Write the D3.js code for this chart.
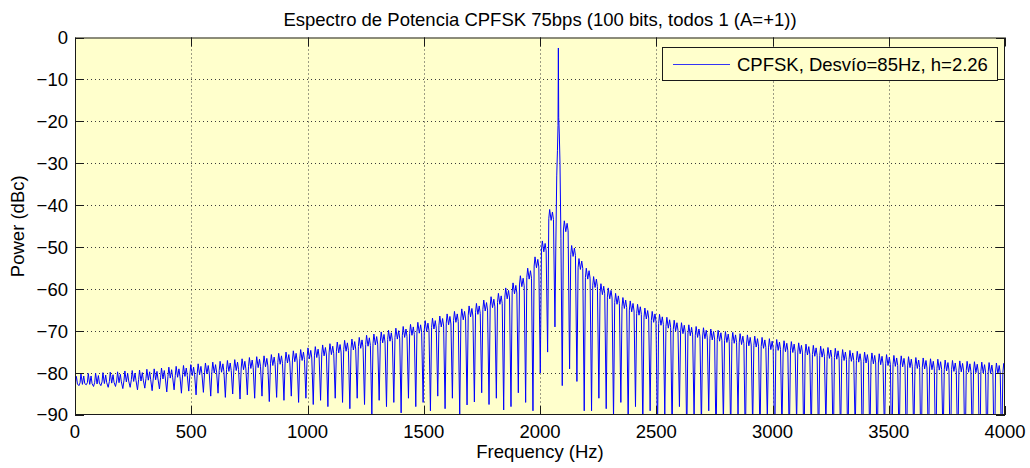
<!DOCTYPE html>
<html>
<head>
<meta charset="utf-8">
<script src="https://cdn.jsdelivr.net/npm/d3@7"></script>
<style>
  html, body { margin: 0; padding: 0; background: #ffffff; }
  svg { display: block; font-family: "Liberation Sans", Arial, Helvetica, sans-serif; }
</style>
</head>
<body>
<svg id="chart" width="1030" height="468"></svg>
<script>
// ---------------- DATA ----------------
const titleText = "Espectro de Potencia CPFSK 75bps (100 bits, todos 1 (A=+1))";
const xLabelText = "Frequency (Hz)";
const yLabelText = "Power (dBc)";
const legendText = "CPFSK, Desvío=85Hz, h=2.26";

const xTicks = [0, 500, 1000, 1500, 2000, 2500, 3000, 3500, 4000];
const yTicks = [0, -10, -20, -30, -40, -50, -60, -70, -80, -90];

const carrierHz = 2080;     // main spectral line
const lobeSpacingHz = 31.5; // spacing of the side lobes

// Central spike (frequency Hz / level dBc)
const centerFreq = [2068, 2072, 2075, 2077.5, 2079, 2080.5, 2083, 2086, 2090];
const centerDb   = [-50, -33, -27, -21, -2.5, -19, -23, -30, -48];

// Side lobe peak levels, moving away from the carrier (lobe 1 = nearest)
const leftPeakDb = [
  -41.0, -48.5, -52.3, -55.0, -56.8, -58.5, -59.7, -61.0, -61.8, -62.6,
  -63.4, -64.0, -64.7, -65.3, -65.9, -66.4, -66.9, -67.5, -67.9, -68.4,
  -68.9, -69.3, -69.8, -70.2, -70.7, -71.0, -71.5, -71.9, -72.2, -72.6,
  -73.0, -73.3, -73.7, -74.0, -74.4, -74.7, -75.0, -75.3, -75.6, -75.9,
  -76.1, -76.3, -76.6, -76.8, -77.0, -77.2, -77.4, -77.6, -77.8, -78.0,
  -78.2, -78.4, -78.6, -78.8, -79.0, -79.1, -79.3, -79.4, -79.5, -79.7,
  -79.8, -79.9, -80.0, -80.1, -80.1, -80.2
];
// Nulls on the left: null 0 sits between the carrier and lobe 1
const leftNullDb = [
  -69, -75, -80, -89, -87, -84.7, -88, -88.8, -86, -87.5,
  -84.7, -86.9, -87.6, -90, -86, -88.5, -85.5, -89, -87, -88,
  -86, -89.5, -87, -88, -86.5, -90, -87.5, -86, -88.5, -87,
  -86, -88, -86.5, -87.5, -86, -87, -85.5, -86.5, -85.8, -86.8,
  -85.5, -86, -85.2, -86.2, -85, -85.8, -84.8, -85.5, -84.6, -85.2,
  -84.3, -84.8, -84, -84.5, -83.8, -84.2, -83.6, -84, -83.4, -83.7,
  -83.2, -83.4, -83, -83.2, -82.8, -83, -82.8
];
const rightPeakDb = [
  -43.7, -49.6, -52.7, -55.0, -57.0, -58.7, -59.7, -61.0, -62.0, -62.8,
  -63.6, -64.5, -65.3, -66.0, -66.7, -67.4, -68.0, -68.5, -68.9, -69.2,
  -69.5, -69.8, -70.1, -70.3, -70.6, -70.9, -71.2, -71.5, -71.8, -72.0,
  -72.3, -72.5, -72.8, -73.1, -73.4, -73.6, -73.9, -74.1, -74.4, -74.6,
  -74.8, -75.0, -75.2, -75.4, -75.6, -75.8, -75.9, -76.1, -76.3, -76.4,
  -76.6, -76.7, -76.9, -77.0, -77.1, -77.2, -77.3, -77.4, -77.5, -77.6, -77.7
];
const rightNullDb = [
  -83, -79, -82, -89, -89, -86, -88.5, -91, -87, -92,
  -88, -93, -89, -95, -90, -94, -88, -96, -91, -93,
  -89, -97, -92, -95, -90, -98, -93, -96, -91, -99,
  -94, -97, -92, -100, -95, -98, -93, -100, -96, -99,
  -94, -101, -97, -100, -95, -102, -98, -101, -96, -103,
  -99, -102, -97, -104, -100, -103, -98, -105, -101, -104, -99, -102
];

// ---------------- LAYOUT / STYLE ----------------
const plot = { left: 75, right: 1005, top: 37.5, bottom: 415 };
const FONT = 18.5;
const lineColor = "#0000ff";
const bgColor = "#ffffcc";
const axisColor = "#1a1a1a";
// lobe drawing template (fraction across lobe, dB offset from lobe peak)
const lobeShape = [[0.16, -2.2], [0.28, 0], [0.48, -2.6], [0.66, -0.6], [0.8, -2.4]];

const svg = d3.select("#chart");
const x = d3.scaleLinear().domain([0, 4000]).range([plot.left, plot.right]);
const y = d3.scaleLinear().domain([-90, 0]).range([plot.bottom, plot.top]);

// axes background
svg.append("rect")
  .attr("x", plot.left).attr("y", plot.top)
  .attr("width", plot.right - plot.left).attr("height", plot.bottom - plot.top)
  .attr("fill", bgColor);

// grid (dotted)
const grid = svg.append("g").attr("stroke", "#3a3a3a").attr("stroke-width", 1)
  .attr("stroke-dasharray", "1,3");
grid.selectAll("line.gx").data(xTicks.slice(1, -1)).join("line")
  .attr("x1", d => Math.round(x(d)) + 0.5).attr("x2", d => Math.round(x(d)) + 0.5)
  .attr("y1", plot.top).attr("y2", plot.bottom);
grid.selectAll("line.gy").data(yTicks.slice(1, -1)).join("line")
  .attr("y1", d => Math.round(y(d)) + 0.5).attr("y2", d => Math.round(y(d)) + 0.5)
  .attr("x1", plot.left).attr("x2", plot.right);

// build spectrum points
const pts = [];
function addLobe(fa, fb, peak) {
  lobeShape.forEach(([t, off]) => pts.push([fa + t * (fb - fa), peak + off]));
}
const nLeft = leftPeakDb.length;
for (let k = nLeft; k >= 1; k--) {
  const fOuter = carrierHz - lobeSpacingHz * (k + 0.5);
  const fInner = carrierHz - lobeSpacingHz * (k - 0.5);
  pts.push([fOuter, leftNullDb[k]]);
  addLobe(fOuter, fInner, leftPeakDb[k - 1]);
}
pts.push([carrierHz - lobeSpacingHz * 0.5, leftNullDb[0]]);
centerFreq.forEach((f, i) => pts.push([f, centerDb[i]]));
for (let k = 1; k <= rightPeakDb.length; k++) {
  const fInner = carrierHz + lobeSpacingHz * (k - 0.5);
  const fOuter = carrierHz + lobeSpacingHz * (k + 0.5);
  pts.push([fInner, rightNullDb[k - 1]]);
  addLobe(fInner, fOuter, rightPeakDb[k - 1]);
}
pts.push([carrierHz + lobeSpacingHz * (rightPeakDb.length + 0.5), rightNullDb[rightPeakDb.length]]);

svg.append("clipPath").attr("id", "clip").append("rect")
  .attr("x", plot.left).attr("y", plot.top)
  .attr("width", plot.right - plot.left).attr("height", plot.bottom - plot.top);

svg.append("path")
  .datum(pts)
  .attr("clip-path", "url(#clip)")
  .attr("fill", "none")
  .attr("stroke", lineColor)
  .attr("stroke-width", 1)
  .attr("stroke-linejoin", "round")
  .attr("d", d3.line().x(d => x(d[0])).y(d => y(d[1])));

// axes box and inward ticks (MATLAB style)
const tickLen = 9;
const axG = svg.append("g").attr("stroke", axisColor).attr("stroke-width", 1).attr("fill", "none");
axG.append("rect")
  .attr("x", plot.left + 0.5).attr("y", plot.top + 0.5)
  .attr("width", plot.right - plot.left - 1).attr("height", plot.bottom - plot.top - 1);
xTicks.forEach(t => {
  const px = Math.round(x(t)) + 0.5;
  axG.append("line").attr("x1", px).attr("x2", px).attr("y1", plot.bottom).attr("y2", plot.bottom - tickLen);
  axG.append("line").attr("x1", px).attr("x2", px).attr("y1", plot.top).attr("y2", plot.top + tickLen);
});
yTicks.forEach(t => {
  const py = Math.round(y(t)) + 0.5;
  axG.append("line").attr("y1", py).attr("y2", py).attr("x1", plot.left).attr("x2", plot.left + tickLen);
  axG.append("line").attr("y1", py).attr("y2", py).attr("x1", plot.right).attr("x2", plot.right - tickLen);
});

// tick labels
const fmtTick = d => (d < 0 ? "\u2212" + Math.abs(d) : String(d));
svg.append("g").selectAll("text").data(xTicks).join("text")
  .attr("x", d => x(d)).attr("y", 438)
  .attr("text-anchor", "middle").attr("font-size", FONT).attr("fill", "#000")
  .text(fmtTick);
svg.append("g").selectAll("text").data(yTicks).join("text")
  .attr("x", plot.left - 7).attr("y", d => y(d)).attr("dy", "0.35em")
  .attr("text-anchor", "end").attr("font-size", FONT).attr("fill", "#000")
  .text(fmtTick);

// title and axis labels
svg.append("text").attr("x", (plot.left + plot.right) / 2).attr("y", 26)
  .attr("text-anchor", "middle").attr("font-size", FONT).attr("fill", "#000").text(titleText);
svg.append("text").attr("x", (plot.left + plot.right) / 2).attr("y", 458)
  .attr("text-anchor", "middle").attr("font-size", FONT).attr("fill", "#000").text(xLabelText);
svg.append("text").attr("transform", `translate(24,${(plot.top + plot.bottom) / 2}) rotate(-90)`)
  .attr("text-anchor", "middle").attr("font-size", FONT).attr("fill", "#000").text(yLabelText);

// legend
const lg = svg.append("g");
lg.append("rect").attr("x", 662.5).attr("y", 47.5).attr("width", 335).attr("height", 33)
  .attr("fill", bgColor).attr("stroke", axisColor).attr("stroke-width", 1);
lg.append("line").attr("x1", 673).attr("x2", 730).attr("y1", 64.5).attr("y2", 64.5)
  .attr("stroke", lineColor).attr("stroke-width", 0.8);
lg.append("text").attr("x", 737).attr("y", 70.5).attr("font-size", FONT).attr("fill", "#000")
  .text(legendText);
</script>
</body>
</html>
